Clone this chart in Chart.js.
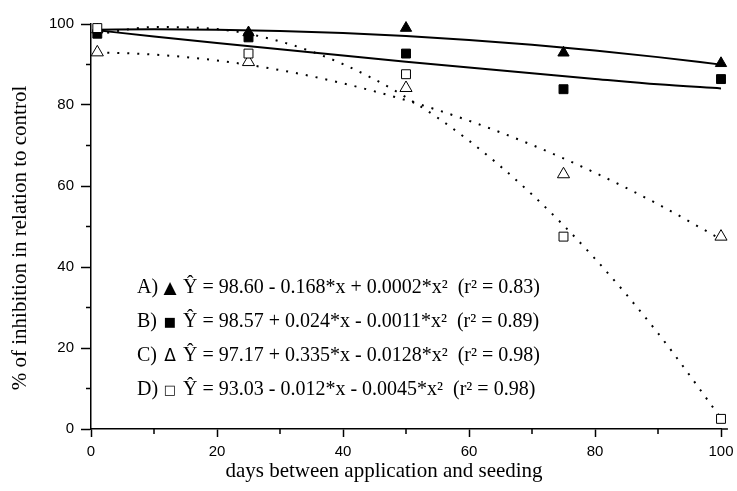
<!DOCTYPE html>
<html>
<head>
<meta charset="utf-8">
<script src="https://cdn.jsdelivr.net/npm/chart.js@4/dist/chart.umd.min.js"></script>
<style>
  body { margin: 0; background: #fff; }
  canvas { display: block; }
</style>
</head>
<body>
<canvas id="chart" width="737" height="491"></canvas>
<script>
const days = [1, 25, 50, 75, 100];
const filledTri = [98.6, 97.9, 99.0, 92.9, 90.3];
const filledSq = [97.6, 96.7, 92.7, 83.9, 86.4];
const openTri = [93.0, 90.6, 84.2, 62.9, 47.5];
const openSq = [99.0, 92.7, 87.6, 47.5, 2.5];

// fitted curves, values
const curveX = [1, 10, 20, 30, 40, 50, 60, 70, 80, 90, 100];
const fitUpper = [98.59, 98.70, 98.61, 98.30, 97.77, 97.02, 96.05, 94.86, 93.45, 91.82, 89.97];
const fitLower = [98.43, 96.94, 95.32, 93.74, 92.20, 90.70, 89.24, 87.82, 86.44, 85.10, 84.10];
const fitSqDot = [97.49, 99.24, 98.75, 95.70, 90.09, 81.92, 71.19, 57.90, 42.05, 23.64, 2.67];
const fitTriDot = [93.01, 92.46, 90.99, 88.62, 85.35, 81.18, 76.11, 70.14, 63.27, 55.50, 46.83];

const xTicks = [0, 20, 40, 60, 80, 100];
const yTicks = [0, 20, 40, 60, 80, 100];
const minorTicks = [10, 30, 50, 70, 90];

const legendLabels = ['A)', 'B)', 'C)', 'D)'];
const legendMarks = ['▲', '■', 'Δ', '□'];
const legendEquations = [
    'Ŷ = 98.60 - 0.168*x + 0.0002*x²  (r² = 0.83)',
    'Ŷ = 98.57 + 0.024*x - 0.0011*x²  (r² = 0.89)',
    'Ŷ = 97.17 + 0.335*x - 0.0128*x²  (r² = 0.98)',
    'Ŷ = 93.03 - 0.012*x - 0.0045*x²  (r² = 0.98)'
];
const xTitle = 'days between application and seeding';
const yTitle = '% of inhibition in relation to control';

const toPts = (xs, ys) => xs.map((x, i) => ({ x: x, y: ys[i] }));

function curve(ys, dashed) {
    return {
        data: toPts(curveX, ys),
        showLine: true,
        borderColor: '#000',
        borderWidth: 2,
        borderDash: dashed ? [2, 8] : [],
        pointRadius: 0,
        cubicInterpolationMode: 'monotone',
        clip: false,
        order: 10
    };
}

function marks(ys, style, filled, r, order) {
    return {
        data: toPts(days, ys),
        showLine: false,
        pointStyle: style,
        pointRadius: r,
        pointHoverRadius: r,
        backgroundColor: filled ? '#000' : '#fff',
        borderColor: '#000',
        borderWidth: 1,
        clip: false,
        order: order
    };
}

const serif = "'Liberation Serif', 'Times New Roman', serif";

const extras = {
    id: 'extras',
    afterDraw(chart) {
        const ctx = chart.ctx;
        const xs = chart.scales.x, ys = chart.scales.y;
        const x0 = xs.getPixelForValue(0), y0 = ys.getPixelForValue(0);
        ctx.save();
        ctx.strokeStyle = '#000';
        ctx.lineWidth = 1.5;
        ctx.beginPath();
        // minor ticks
        for (const v of minorTicks) {
            const px = xs.getPixelForValue(v);
            ctx.moveTo(px, y0); ctx.lineTo(px, y0 + 5);
            const py = ys.getPixelForValue(v);
            ctx.moveTo(x0, py); ctx.lineTo(x0 - 5, py);
        }
        // x axis runs a little past 100
        ctx.moveTo(xs.getPixelForValue(100), y0);
        ctx.lineTo(xs.getPixelForValue(101.1), y0);
        ctx.stroke();

        ctx.fillStyle = '#000';
        // axis titles
        ctx.font = '21px ' + serif;
        ctx.textAlign = 'center';
        ctx.textBaseline = 'alphabetic';
        ctx.fillText(xTitle, 384, 477);
        ctx.save();
        ctx.translate(26, 238);
        ctx.rotate(-Math.PI / 2);
        ctx.fillText(yTitle, 0, 0);
        ctx.restore();

        // equations block
        for (let i = 0; i < legendLabels.length; i++) {
            const base = 293 + i * 34;
            const small = (i === 1 || i === 3);
            ctx.textAlign = 'left';
            ctx.font = '20px ' + serif;
            ctx.fillText(legendLabels[i], 137, base);
            ctx.textAlign = 'center';
            ctx.font = (small ? '13px ' : '17px ') + "'DejaVu Sans', sans-serif";
            ctx.fillText(legendMarks[i], 170, base - (small ? 1 : 0));
            ctx.textAlign = 'left';
            ctx.font = '20px ' + serif;
            ctx.fillText(legendEquations[i], 183, base);
        }
        ctx.restore();
    }
};

const tickFont = { family: "'Liberation Sans', Arial, sans-serif", size: 15 };

new Chart(document.getElementById('chart'), {
    type: 'scatter',
    data: {
        datasets: [
            curve(fitUpper, false),
            curve(fitLower, false),
            curve(fitSqDot, true),
            curve(fitTriDot, true),
            marks(filledTri, 'triangle', true, 6.5, 4),
            marks(filledSq, 'rect', true, 6.3, 3),
            marks(openTri, 'triangle', false, 7, 2),
            marks(openSq, 'rect', false, 6.3, 1)
        ]
    },
    options: {
        responsive: false,
        animation: false,
        devicePixelRatio: 1,
        layout: { padding: { top: 24, right: 16, left: 0, bottom: 0 } },
        plugins: {
            legend: { display: false },
            tooltip: { enabled: false }
        },
        scales: {
            x: {
                type: 'linear',
                min: 0,
                max: 100,
                afterBuildTicks: (scale) => { scale.ticks = xTicks.map(v => ({ value: v })); },
                afterFit: (scale) => { scale.height = 62; scale.paddingRight = 0; scale.paddingLeft = 0; },
                ticks: { color: '#000', font: tickFont, padding: 6, maxRotation: 0 },
                grid: { drawOnChartArea: false, drawTicks: true, tickLength: 8, tickWidth: 1.5, tickColor: '#000' },
                border: { color: '#000', width: 1.5 }
            },
            y: {
                min: 0,
                max: 100,
                afterBuildTicks: (scale) => { scale.ticks = yTicks.map(v => ({ value: v })); },
                afterFit: (scale) => { scale.width = 91; scale.paddingTop = 0; scale.paddingBottom = 0; },
                ticks: { color: '#000', font: tickFont, padding: 7 },
                grid: { drawOnChartArea: false, drawTicks: true, tickLength: 10, tickWidth: 1.5, tickColor: '#000' },
                border: { color: '#000', width: 1.5 }
            }
        }
    },
    plugins: [extras]
});
</script>
</body>
</html>
